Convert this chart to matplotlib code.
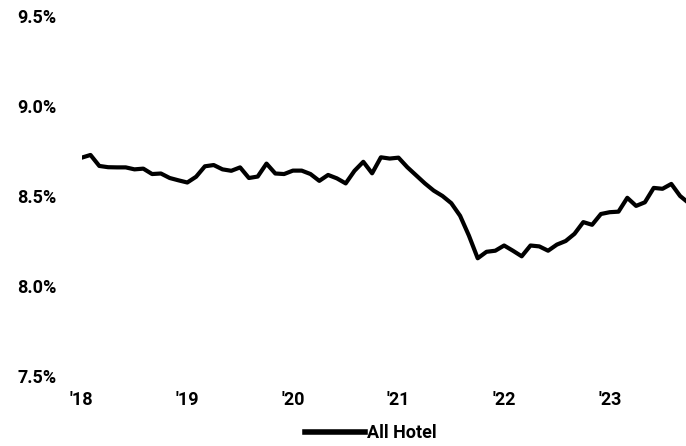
import matplotlib
matplotlib.use("Agg")
import matplotlib.pyplot as plt
import numpy as np

plt.rcParams['font.family'] = ['Roboto', 'DejaVu Sans']
plt.rcParams['font.weight'] = 'bold'

# Monthly values starting Jan 2018 (percent)
all_hotel = [
    8.713, 8.728, 8.667, 8.660, 8.659, 8.659, 8.648, 8.652, 8.622, 8.625, 8.600, 8.587,   # 2018
    8.575, 8.607, 8.665, 8.672, 8.648, 8.640, 8.659, 8.600, 8.608, 8.680, 8.625, 8.622,   # 2019
    8.641, 8.641, 8.622, 8.584, 8.617, 8.598, 8.570, 8.640, 8.690, 8.626, 8.715, 8.708,   # 2020
    8.713, 8.660, 8.615, 8.570, 8.530, 8.500, 8.460, 8.390, 8.280, 8.154, 8.190, 8.196,   # 2021
    8.225, 8.196, 8.165, 8.225, 8.220, 8.196, 8.230, 8.250, 8.290, 8.355, 8.340, 8.400,   # 2022
    8.410, 8.413, 8.490, 8.445, 8.465, 8.545, 8.540, 8.567, 8.500, 8.460,                 # 2023
]
series_name = "All Hotel"
year_labels = ["'18", "'19", "'20", "'21", "'22", "'23"]
y_ticks = [7.5, 8.0, 8.5, 9.0, 9.5]
y_tick_labels = ["7.5%", "8.0%", "8.5%", "9.0%", "9.5%"]

W, H = 686, 446
fig = plt.figure(figsize=(W / 100, H / 100), dpi=100)
left_px, right_px = 81.7, 686
bottom_px, top_px = 376, 16
ax = fig.add_axes([left_px / W, (H - bottom_px) / H,
                   (right_px - left_px) / W, (bottom_px - top_px) / H])

months = np.arange(len(all_hotel))
ax.plot(months, all_hotel, color='black', lw=3, solid_joinstyle='round',
        label=series_name, clip_on=True)

ax.set_ylim(7.5, 9.5)
ax.set_xlim(0, (right_px - left_px) / 8.8)

ax.set_yticks(y_ticks)
ax.set_yticklabels(y_tick_labels, ha='left')
ax.set_xticks(np.arange(len(year_labels)) * 12)
ax.set_xticklabels(year_labels)

ax.tick_params(axis='y', length=0, pad=(left_px - 17) * 0.72, labelsize=13)
ax.tick_params(axis='x', length=0, pad=11, labelsize=13)
for s in ax.spines.values():
    s.set_visible(False)

leg = fig.legend(loc='center', bbox_to_anchor=(371 / W, (H - 433) / H),
                 frameon=False, fontsize=13, handlelength=3.3,
                 handletextpad=0.15, borderaxespad=0, borderpad=0)
for line in leg.get_lines():
    line.set_linewidth(4)

fig.savefig("out.png", dpi=100)
